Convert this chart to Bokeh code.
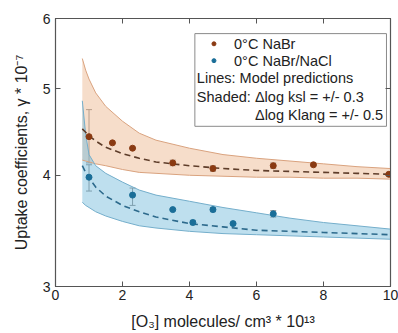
from bokeh.plotting import figure
from bokeh.models import (ColumnDataSource, Whisker, TeeHead, FixedTicker, LinearAxis,
                          LogAxis, Label, PrintfTickFormatter, Range1d)
from bokeh.embed import file_html
from bokeh.resources import INLINE

# ---- data ----
x_model = [0.8, 0.9, 1.0, 1.2, 1.5, 2.0, 2.5, 3.0, 4.0, 5.0, 6.0, 7.0, 8.0, 9.0, 10.0]
nabr_model = [4.51, 4.47, 4.43, 4.37, 4.30, 4.23, 4.18, 4.14, 4.10, 4.07, 4.05, 4.04, 4.03, 4.02, 4.01]
nabr_upper = [5.41, 5.25, 5.13, 4.95, 4.78, 4.60, 4.46, 4.38, 4.29, 4.22, 4.18, 4.15, 4.12, 4.09, 4.07]
nabr_lower = [4.16, 4.15, 4.14, 4.12, 4.10, 4.06, 4.03, 4.02, 4.00, 3.99, 3.98, 3.98, 3.97, 3.97, 3.96]
nacl_model = [4.10, 4.03, 3.97, 3.88, 3.79, 3.70, 3.64, 3.59, 3.53, 3.50, 3.47, 3.46, 3.45, 3.44, 3.43]
nacl_upper = [4.85, 4.45, 4.22, 4.10, 4.02, 3.93, 3.85, 3.80, 3.74, 3.68, 3.63, 3.58, 3.54, 3.51, 3.48]
nacl_lower = [3.73, 3.70, 3.68, 3.64, 3.60, 3.55, 3.51, 3.49, 3.46, 3.44, 3.43, 3.42, 3.41, 3.40, 3.39]

nabr_x = [1.0, 1.7, 2.3, 3.5, 4.7, 6.5, 7.7, 9.95]
nabr_y = [4.42, 4.35, 4.29, 4.13, 4.07, 4.10, 4.11, 4.01]
nabr_ylo = [4.13, 4.35, 4.29, 4.10, 4.04, 4.07, 4.11, 4.01]
nabr_yhi = [4.74, 4.35, 4.29, 4.16, 4.10, 4.13, 4.11, 4.01]

nacl_x = [1.0, 2.3, 3.5, 4.1, 4.7, 5.3, 6.5]
nacl_y = [3.98, 3.80, 3.66, 3.54, 3.66, 3.53, 3.62]
nacl_ylo = [3.84, 3.70, 3.65, 3.52, 3.64, 3.52, 3.59]
nacl_yhi = [4.11, 3.87, 3.67, 3.56, 3.68, 3.54, 3.65]

x_ticks = [0, 2, 4, 6, 8, 10]
y_ticks = [3, 4, 5, 6]

FONT = "Liberation Sans"
TXT = "#222222"
AX = "#555555"
BROWN = "#8a3a12"
BLUE = "#1a6e98"

p = figure(width=398, height=333, x_range=Range1d(0, 10), y_range=Range1d(3, 6),
           y_axis_type="log", output_backend="svg", toolbar_location=None,
           min_border_left=55, min_border_right=8, min_border_top=18, min_border_bottom=47)
p.xgrid.visible = False
p.ygrid.visible = False
p.outline_line_color = AX
p.outline_line_width = 1.2

# bands
p.varea(x=x_model, y1=nabr_lower, y2=nabr_upper, fill_color="#eab48a", fill_alpha=0.45)
p.varea(x=x_model, y1=nacl_lower, y2=nacl_upper, fill_color="#6fb8da", fill_alpha=0.45)
for ys, c in ((nabr_upper, "#d9a27e"), (nabr_lower, "#d9a27e"),
              (nacl_upper, "#74aecb"), (nacl_lower, "#74aecb")):
    p.line(x_model, ys, line_color=c, line_width=1)

# model lines
p.line(x_model, nabr_model, line_color="#5e3d2a", line_width=1.6, line_dash="6 4")
p.line(x_model, nacl_model, line_color="#2d6a8c", line_width=1.6, line_dash="6 4")

# error bars
for xs, ys, lo, hi in ((nabr_x, nabr_y, nabr_ylo, nabr_yhi), (nacl_x, nacl_y, nacl_ylo, nacl_yhi)):
    src = ColumnDataSource(dict(x=xs, y=ys, lo=lo, hi=hi))
    w = Whisker(base="x", lower="lo", upper="hi", source=src, line_color="#8c8c8c", line_width=1,
                upper_head=TeeHead(size=6, line_color="#8c8c8c", line_width=1),
                lower_head=TeeHead(size=6, line_color="#8c8c8c", line_width=1))
    p.add_layout(w)

p.scatter(nabr_x, nabr_y, size=6, fill_color=BROWN, line_color=BROWN)
p.scatter(nacl_x, nacl_y, size=6, fill_color=BLUE, line_color=BLUE)

# legend box
p.quad(left=[4.16], right=[9.88], top=[5.77], bottom=[4.54], fill_color="white",
       line_color="#8a8a8a", line_width=1)
p.scatter([4.73], [5.62], size=4, fill_color=BROWN, line_color=BROWN)
p.scatter([4.73], [5.38], size=4, fill_color=BLUE, line_color=BLUE)
leg = [("0°C NaBr", 5.33, 5.61, "left"),
       ("0°C NaBr/NaCl", 5.33, 5.38, "left"),
       ("Lines: Model predictions", 4.22, 5.14, "left"),
       ("Shaded: \u0394log ksl = +/- 0.3", 4.22, 4.90, "left"),
       ("\u0394log Klang = +/- 0.5", 9.78, 4.67, "right")]
for t, lx, ly, al in leg:
    p.add_layout(Label(x=lx, y=ly, text=t, text_font=FONT, text_font_size="14.5px",
                       text_color=TXT, text_baseline="middle", text_align=al))

# axes styling
for ax in (p.xaxis[0], p.yaxis[0]):
    ax.major_tick_in = 5
    ax.major_tick_out = 0
    ax.minor_tick_line_color = None
    ax.axis_line_color = AX
    ax.major_tick_line_color = AX
    ax.major_label_text_font = FONT
    ax.major_label_text_font_size = "14px"
    ax.major_label_text_color = TXT
    ax.axis_label_text_font = FONT
    ax.axis_label_text_font_size = "16px"
    ax.axis_label_text_font_style = "normal"
    ax.axis_label_text_color = TXT

p.xaxis[0].ticker = FixedTicker(ticks=x_ticks)
p.yaxis[0].ticker = FixedTicker(ticks=y_ticks)
p.yaxis[0].formatter = PrintfTickFormatter(format="%d")
p.xaxis[0].major_label_standoff = 3
p.xaxis[0].axis_label_standoff = 10
p.yaxis[0].major_label_standoff = 5
p.yaxis[0].axis_label_standoff = 10
p.xaxis[0].axis_label = "[O\u2083] molecules/ cm\u00b3 * 10\u00b9\u00b3"
p.yaxis[0].axis_label = "Uptake coefficients, \u03b3 * 10\u207b\u2077"

top = LinearAxis(ticker=FixedTicker(ticks=x_ticks), major_tick_in=5, major_tick_out=0,
                 minor_tick_line_color=None, axis_line_color=AX, major_tick_line_color=AX,
                 major_label_overrides={t: "" for t in x_ticks}, major_label_text_font_size="1px",
                 major_label_standoff=0)
p.add_layout(top, "above")
right = LogAxis(ticker=FixedTicker(ticks=y_ticks), major_tick_in=5, major_tick_out=0,
                minor_tick_line_color=None, axis_line_color=AX, major_tick_line_color=AX,
                major_label_overrides={t: "" for t in y_ticks}, major_label_text_font_size="1px",
                major_label_standoff=0)
p.add_layout(right, "right")

open("out.html", "w").write(file_html(p, INLINE))
